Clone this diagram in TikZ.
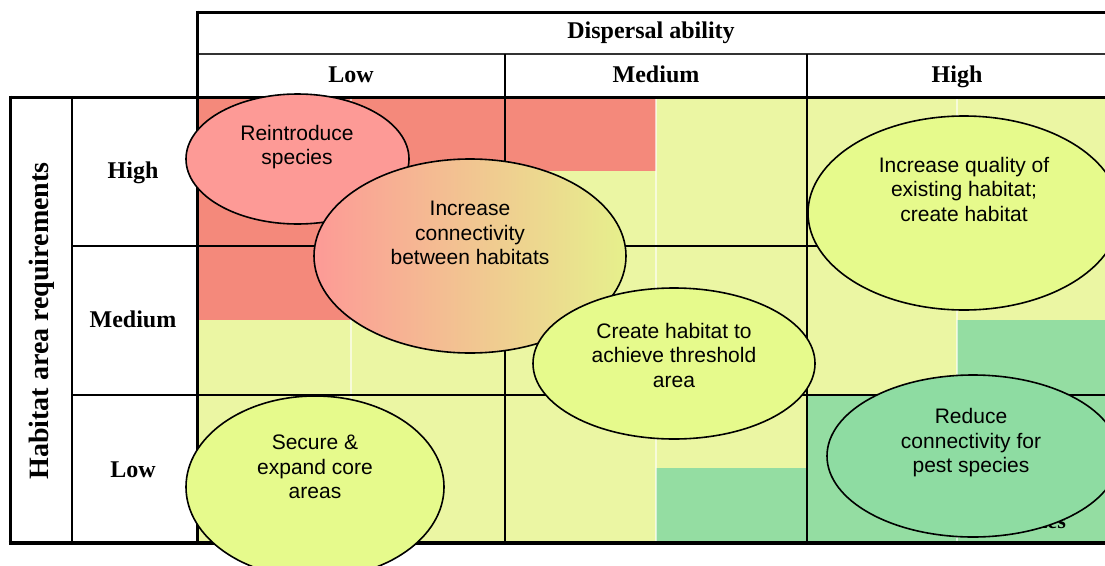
\documentclass[tikz,border=0pt]{standalone}
\usepackage{fontspec}
\setmainfont{Liberation Serif}
\newfontfamily\arialfont{Liberation Sans}
\usetikzlibrary{shapes.geometric}
\definecolor{cellred}{HTML}{F4897B}
\definecolor{cellyel}{HTML}{EBF6A3}
\definecolor{cellgrn}{HTML}{94DDA2}
\definecolor{ellpink}{HTML}{FD9A96}
\definecolor{ellyel}{HTML}{E6FA8C}
\definecolor{ellgrn}{HTML}{8EDCA2}
\definecolor{gradyel}{HTML}{E6F08C}
\begin{document}
\begin{tikzpicture}[x=1pt,y=-1pt,
  hdr/.style={font=\bfseries\fontsize{24}{28}\selectfont, inner sep=0pt, anchor=base},
  vlab/.style={font=\bfseries\fontsize{28}{32}\selectfont, inner sep=0pt, anchor=base, rotate=90},
  bub/.style={ellipse, draw=black, line width=1.6pt, inner sep=0pt},
  btxt/.style={font=\arialfont\fontsize{21}{24.5}\selectfont, align=center, inner sep=0pt},
  heavy/.style={line width=3pt, draw=black},
  medline/.style={line width=2.2pt, draw=black},
  thinline/.style={line width=1.5pt, draw=black},
  subsep/.style={line width=1.2pt, draw=white, opacity=0.6}
]
\useasboundingbox (0,0) rectangle (1105,565);
\clip (0,0) rectangle (1105,565);
\fill[white] (0,0) rectangle (1105,565);

% cell colours
\fill[cellyel] (197,97) rectangle (1105,543);
\fill[cellred] (197,97) rectangle (505,246);
\fill[cellred] (505,97) rectangle (656,171);
\fill[cellred] (197,246) rectangle (351,320);
\fill[cellgrn] (957,320) rectangle (1105,395);
\fill[cellgrn] (656,468) rectangle (807,543);
\fill[cellgrn] (807,395) rectangle (1105,543);
\draw[subsep] (351,97) -- (351,543);
\draw[subsep] (656,97) -- (656,543);
\draw[subsep] (957,97) -- (957,543);

% grid lines
\draw[heavy] (197,12) -- (1105,12);
\draw[line width=1.8pt, draw=black!80] (197,54) -- (1105,54);
\draw[heavy] (10,97) -- (1105,97);
\draw[heavy] (197,10.5) -- (197,543);
\draw[thinline] (505,54) -- (505,97);
\draw[thinline] (807,54) -- (807,97);
\draw[medline] (505,97) -- (505,543);
\draw[medline] (807,97) -- (807,543);
\draw[heavy] (10,95.5) -- (10,544.5);
\draw[thinline] (72,97) -- (72,543);
\draw[thinline] (72,246) -- (197,246);
\draw[thinline] (72,395) -- (197,395);
\draw[line width=2.6pt] (197,246) -- (1105,246);
\draw[line width=2.6pt] (197,395) -- (1105,395);
\draw[line width=3.5pt] (8.5,543) -- (1105,543);

% header texts
\node[hdr] (disp) at (651,38) {Dispersal ability};
\node[hdr] (clow) at (351,82) {Low};
\node[hdr] (cmed) at (656,82) {Medium};
\node[hdr] (chigh) at (957,82) {High};
\node[hdr] (rhigh) at (133,178) {High};
\node[hdr] (rmed) at (133,327) {Medium};
\node[hdr] (rlow) at (133,477) {Low};
\node[vlab] (hab) at (48,321) {Habitat area requirements};
\node[font=\bfseries\fontsize{22}{26}\selectfont, inner sep=0pt, anchor=base east] (pest) at (1066,528) {Pest species};

% ellipses
\node[bub, fill=ellpink, minimum width=223pt, minimum height=130pt] (e1) at (297.5,159) {};
\node[btxt] (t1) at (297,147) {Reintroduce\\species};
\node[bub, left color=ellpink, right color=gradyel, minimum width=312pt, minimum height=194pt] (e2) at (470,256) {};
\node[btxt] (t2) at (470,233) {Increase\\connectivity\\between habitats};
\node[bub, fill=ellyel, minimum width=312pt, minimum height=194pt] (e3) at (964,213) {};
\node[btxt] (t3) at (964,189) {Increase quality of\\existing habitat;\\create habitat};
\node[bub, fill=ellyel, minimum width=282pt, minimum height=151pt] (e4) at (674,363.5) {};
\node[btxt] (t4) at (674,355) {Create habitat to\\achieve threshold\\area};
\node[bub, fill=ellgrn, minimum width=292pt, minimum height=162pt] (e5) at (973,456) {};
\node[btxt] (t5) at (971,443) {Reduce\\connectivity for\\pest species};
\node[bub, fill=ellyel, minimum width=258pt, minimum height=182pt] (e6) at (315,487) {};
\node[btxt] (t6) at (315,467) {Secure \&\\expand core\\areas};
\end{tikzpicture}
\end{document}
